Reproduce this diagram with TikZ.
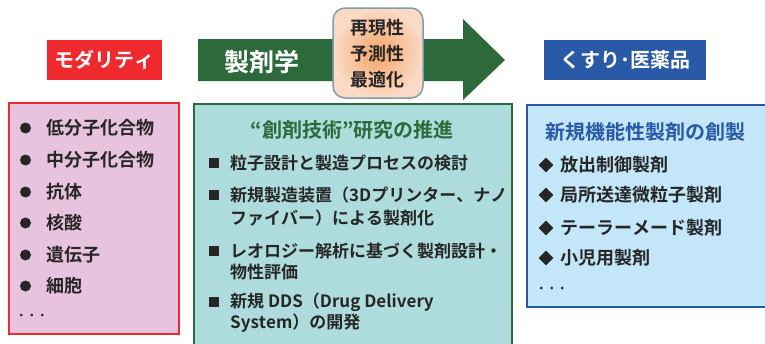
\documentclass[tikz,border=0pt]{standalone}
\usepackage{fontspec}
\setmainfont{Noto Sans CJK JP}[BoldFont={* Bold}, Kerning=Off]
\usetikzlibrary{shapes.geometric}
\definecolor{redlab}{HTML}{EE2A2F}
\definecolor{greenarr}{HTML}{2D6A3B}
\definecolor{bluelab}{HTML}{2A59A8}
\definecolor{pinkfill}{HTML}{E8C3DD}
\definecolor{tealfill}{HTML}{AEDCDC}
\definecolor{lbluefill}{HTML}{C3E6F8}
\definecolor{txt}{HTML}{262626}
\definecolor{boxedge}{HTML}{7F9DAA}
\definecolor{orin}{HTML}{F3A467}
\definecolor{orout}{HTML}{FADAC6}
\tikzset{
  label/.style={fill=#1, text=white, font=\bfseries\fontsize{20}{22}\selectfont, inner sep=0pt, minimum height=40pt},
  item/.style={anchor=west, text=txt, font=\bfseries\fontsize{18}{20}\selectfont, inner sep=0pt},
  mitem/.style={anchor=west, text=txt, font=\bfseries\fontsize{17}{19}\selectfont, inner sep=0pt},
  dots/.style={anchor=west, text=txt, font=\bfseries\fontsize{10.5}{12}\selectfont, inner sep=0pt},
  bul/.style={circle, fill=txt, inner sep=0pt, minimum size=11pt},
  sqb/.style={rectangle, fill=txt, inner sep=0pt, minimum size=10pt},
  dia/.style={diamond, fill=txt, inner sep=0pt, minimum size=15pt},
}
\begin{document}
\begin{tikzpicture}[x=1pt,y=-1pt]
\useasboundingbox (0,0) rectangle (765,343);
\clip (0,0) rectangle (765,343);
% labels
\node[label=redlab, minimum width=115pt] (mod) at (104.5,60) {モダリティ};
\node[label=bluelab, minimum width=162pt] (med) at (625,60) {くすり･医薬品};
% arrow
\fill[greenarr] (198,39) -- (463,39) -- (463,19) -- (505,60) -- (463,100) -- (463,81) -- (198,81) -- cycle;
\node[text=white, font=\bfseries\fontsize{25}{27}\selectfont, inner sep=0pt] (pharm) at (262,62) {製剤学};
% orange box
\node[draw=boxedge, line width=1.5pt, rounded corners=12pt, minimum width=90pt, minimum height=90pt,
      inner color=orin, outer color=orout, shading=radial] (obox) at (378,53) {};
\node[text=txt, font=\bfseries\fontsize{18}{20}\selectfont, inner sep=0pt] (o1) at (377,28) {再現性};
\node[text=txt, font=\bfseries\fontsize{18}{20}\selectfont, inner sep=0pt] (o2) at (377,54) {予測性};
\node[text=txt, font=\bfseries\fontsize{18}{20}\selectfont, inner sep=0pt] (o3) at (377,80) {最適化};
% left box
\draw[fill=pinkfill, draw=redlab, line width=1.5pt] (9,103) rectangle (179,334);
\foreach \y/\t [count=\i] in {128/低分子化合物,160/中分子化合物,192/抗体,223/核酸,255/遺伝子,286/細胞}{
  \node[bul] (lb\i) at (25.5,\y) {};
  \node[item] (lt\i) at (46,\y) {\t};
}
\node[dots] (ldots) at (16,317) {・・・};
% middle box
\draw[fill=tealfill, draw=greenarr, line width=1.5pt] (194,104) rectangle (512,360);
\node[text=greenarr, font=\bfseries\fontsize{20}{22}\selectfont, inner sep=0pt] (mtitle) at (352,130) {“創剤技術”研究の推進};
\node[sqb] (ms1) at (214,163) {};
\node[mitem] (m1) at (230,163) {粒子設計と製造プロセスの検討};
\node[sqb] (ms2) at (214,195) {};
\node[mitem] (m2a) at (230,195) {新規製造装置（3Dプリンター、ナノ};
\node[mitem] (m2b) at (230,218) {ファイバー）による製剤化};
\node[sqb] (ms3) at (214,251) {};
\node[mitem] (m3a) at (230,251) {レオロジー解析に基づく製剤設計・};
\node[mitem] (m3b) at (230,272) {物性評価};
\node[sqb] (ms4) at (214,302) {};
\node[mitem] (m4a) at (230,302) {新規 DDS（Drug Delivery};
\node[mitem] (m4b) at (230,323) {System）の開発};
% right box
\draw[fill=lbluefill, draw=bluelab, line width=1.5pt] (527,105) rectangle (780,307);
\node[anchor=west, text=bluelab, font=\bfseries\fontsize{20}{22}\selectfont, inner sep=0pt] (rtitle) at (545,132) {新規機能性製剤の創製};
\foreach \y/\t [count=\i] in {165/放出制御製剤,195/局所送達微粒子製剤,228/テーラーメード製剤,258/小児用製剤}{
  \node[dia] (rd\i) at (546,\y) {};
  \node[item] (rt\i) at (560,\y) {\t};
}
\node[dots] (rdots) at (536,290) {・・・};
\end{tikzpicture}
\end{document}
